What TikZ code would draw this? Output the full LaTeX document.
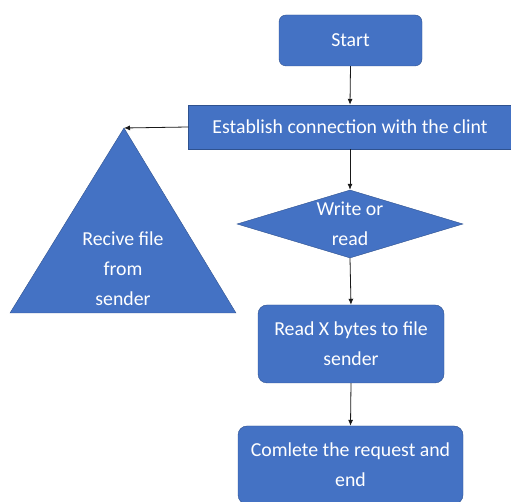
\documentclass[tikz,border=0pt]{standalone}
\usepackage{fontspec}
\setmainfont{Carlito}
\usepackage{tikz}
\usetikzlibrary{shapes.geometric,arrows.meta}
\definecolor{myblue}{RGB}{68, 114, 196}
\definecolor{myborder}{RGB}{47, 82, 143}

\begin{document}
\begin{tikzpicture}[x=1pt,y=1pt]
                \useasboundingbox (0,0) rectangle (511,502);
                \clip (0,0) rectangle (511,502);
                \tikzstyle{box}=[rectangle, draw=myborder, fill=myblue, text=white, align=center, font=\fontsize{19.8}{30}\selectfont, inner sep=0pt]
                \node[box, rounded corners=7pt, minimum width=143pt, minimum height=51pt] (S) at (350.5,461.5) {Start};
                \node[box, minimum width=323pt, minimum height=44pt] (E) at (350,375) {Establish connection with the clint};
                \node[box, diamond, aspect=3.3, minimum width=226pt, minimum height=68pt] (W) at (350,278) {Write or\\read};
                \node[box, rounded corners=9pt, minimum width=186pt, minimum height=78pt] (R) at (351,158) {Read X bytes to file\\sender};
                \node[box, rounded corners=9pt, minimum width=225pt, minimum height=78pt] (C) at (350.5,37) {Comlete the request and\\end};

                \coordinate (T) at (124,374);
                \draw[draw=myborder, fill=myblue] (T) -- (236,189) -- (10,189) -- cycle;
                \node[box, draw=none, fill=none] (F) at (123,233) {Recive file\\from\\sender};

                \tikzstyle{bind}=[->,>={Latex[length=6pt,width=5pt]},line width=0.8pt,draw=black!90]

                \draw[bind] (S.south) -- (E.north);
                \draw[bind] (E.west) -- (T);
                \draw[bind] (E.south) -- (W.north);
                \draw[bind] (W.south) -- (R.north);
                \draw[bind] (R.south) -- (C.north);
            \end{tikzpicture}
\end{document}
